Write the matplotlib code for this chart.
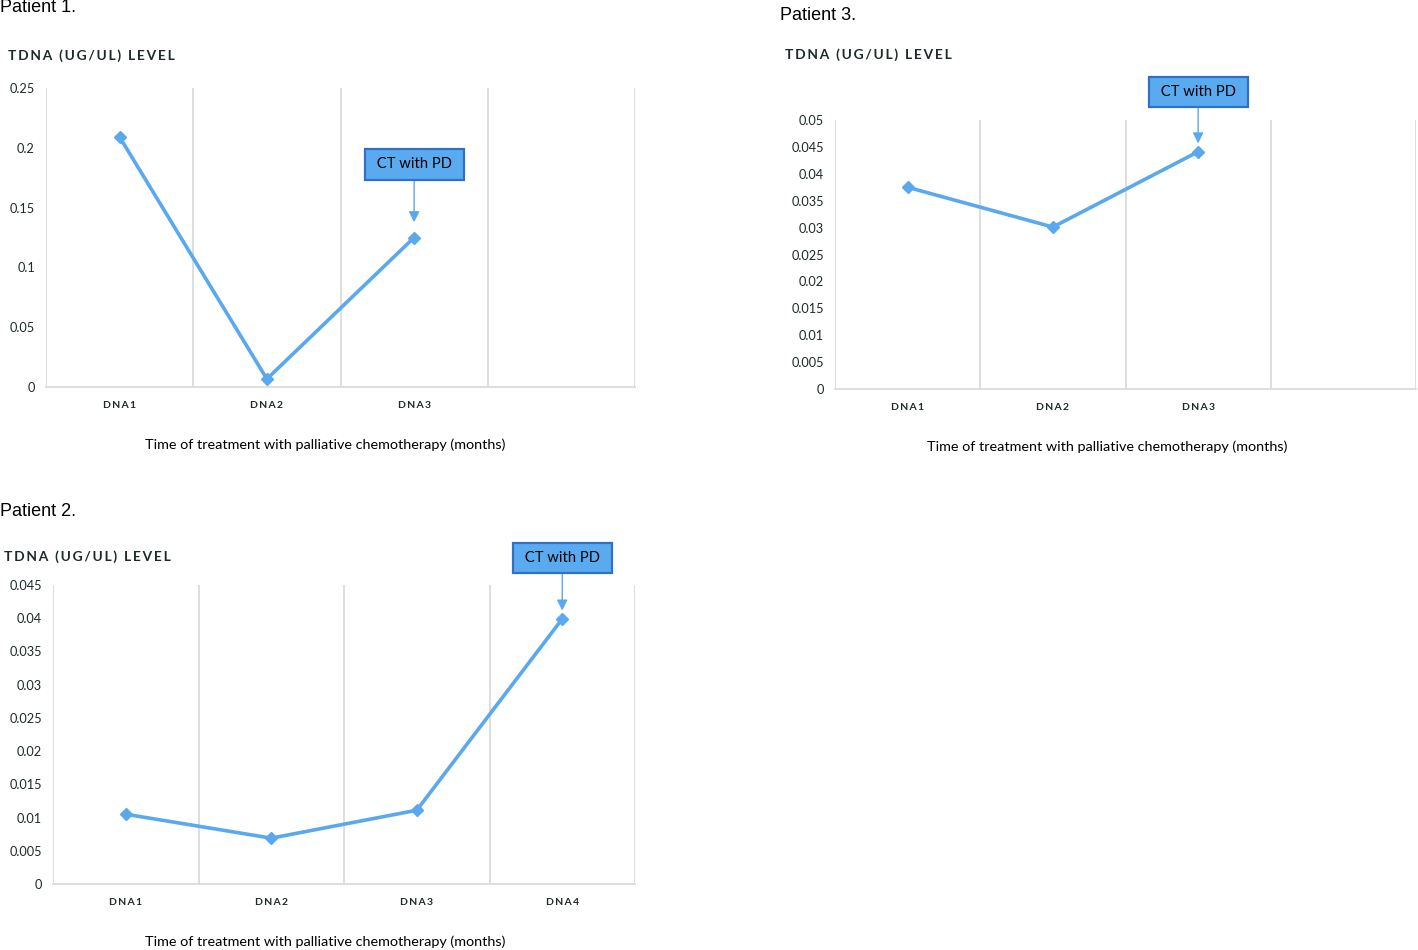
import matplotlib
matplotlib.use("Agg")
import matplotlib.pyplot as plt
from matplotlib.ticker import FixedLocator, FuncFormatter

# ---- data ----
p1_cats = ["DNA1", "DNA2", "DNA3"]
p1_vals = [0.209, 0.0067, 0.125]
p1_yticks = [0, 0.05, 0.1, 0.15, 0.2, 0.25]

p2_cats = ["DNA1", "DNA2", "DNA3", "DNA4"]
p2_vals = [0.0105, 0.0069, 0.0111, 0.0399]
p2_yticks = [0, 0.005, 0.01, 0.015, 0.02, 0.025, 0.03, 0.035, 0.04, 0.045]

p3_cats = ["DNA1", "DNA2", "DNA3"]
p3_vals = [0.0375, 0.0301, 0.0441]
p3_yticks = [0, 0.005, 0.01, 0.015, 0.02, 0.025, 0.03, 0.035, 0.04, 0.045, 0.05]

titles = ["Patient 1.", "Patient 2.", "Patient 3."]
ylabel = "TDNA (UG/UL) LEVEL"
xlabel = "Time of treatment with palliative chemotherapy (months)"
note = "CT with PD"

W, H = 1418, 950
LINE = "#5aa8ee"
GRID = "#d9dcdc"
TXT = "#1e2a2a"
FONT = ["Lato", "DejaVu Sans"]

fig = plt.figure(figsize=(W / 100, H / 100), dpi=100)


def spaced(s):
    return "\u2009".join(s)


def make_panel(box, cats, vals, yticks, title, title_xy, ylab_xy, xlab_xy, note_off, shrink):
    l, t, r, b = box
    ax = fig.add_axes([l / W, 1 - b / H, (r - l) / W, (b - t) / H])
    nslots = 4
    ax.set_xlim(-0.5, nslots - 0.5)
    ax.set_ylim(0, yticks[-1])
    for x in [i - 0.5 for i in range(nslots + 1)]:
        ax.axvline(x, color=GRID, lw=1.3, zorder=0)
    for s in ["top", "right", "left"]:
        ax.spines[s].set_visible(False)
    ax.spines["bottom"].set_color(GRID)
    ax.spines["bottom"].set_linewidth(1.3)
    xs = list(range(len(cats)))
    ax.plot(xs, vals, color=LINE, lw=2.6, marker="D", ms=6.5, zorder=3)
    ax.xaxis.set_major_locator(FixedLocator(xs))
    ax.set_xticklabels([spaced(c) for c in cats], family=FONT, fontsize=7.5,
                       fontweight="bold", color=TXT)
    ax.yaxis.set_major_locator(FixedLocator(yticks))
    ax.yaxis.set_major_formatter(FuncFormatter(lambda v, p: f"{v:g}"))
    for lab in ax.get_yticklabels():
        lab.set_family(FONT)
        lab.set_fontsize(9.2)
        lab.set_color(TXT)
    ax.tick_params(axis="both", length=0)
    ax.tick_params(axis="x", pad=10)
    ax.tick_params(axis="y", pad=8)

    fig.text(title_xy[0] / W, 1 - title_xy[1] / H, title, family=["Liberation Sans"],
             fontsize=13, ha="left", va="center", color="black")
    fig.text(ylab_xy[0] / W, 1 - ylab_xy[1] / H, spaced(ylabel), family=FONT,
             fontsize=9.9, fontweight="bold", ha="left", va="center", color=TXT)
    fig.text(xlab_xy[0] / W, 1 - xlab_xy[1] / H, xlabel, family=FONT,
             fontsize=10.4, ha="center", va="center", color="black")

    ax.annotate(" " + note + " ", xy=(xs[-1], vals[-1]), xytext=(note_off[0], note_off[1]),
                textcoords="offset pixels", ha="center", va="center",
                family=FONT, fontsize=10.6, color="black",
                bbox=dict(boxstyle="square,pad=0.55", fc="#5aaaf0", ec="#2f72c4", lw=1.6),
                arrowprops=dict(arrowstyle="-|>,head_length=0.6,head_width=0.3",
                                color=LINE, lw=1.0, shrinkA=0, shrinkB=shrink),
                annotation_clip=False, zorder=5)
    return ax


make_panel((46, 88, 635, 387), p1_cats, p1_vals, p1_yticks, titles[0],
           (0, 8), (8, 56), (325, 445), (0, 73), 11)
make_panel((53, 585, 635, 884), p2_cats, p2_vals, p2_yticks, titles[1],
           (0, 512), (4, 557), (325, 942), (0, 61), 6)
make_panel((835, 120, 1416, 389), p3_cats, p3_vals, p3_yticks, titles[2],
           (780, 16), (785, 55), (1107, 447), (0, 60), 6)

fig.savefig("out.png", dpi=100)
